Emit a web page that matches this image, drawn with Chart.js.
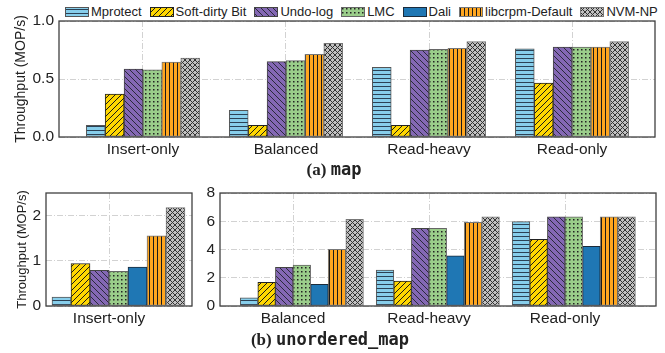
<!DOCTYPE html>
<html>
<head>
<meta charset="utf-8">
<script src="https://cdn.jsdelivr.net/npm/chart.js@4/dist/chart.umd.min.js"></script>
<style>
  body { margin: 0; background: #fff; width: 665px; height: 353px; position: relative; overflow: hidden;
         font-family: "Liberation Sans", Arial, sans-serif; }
  canvas.chart { position: absolute; }
  #legend { position: absolute; left: 65px; top: 5px; display: flex; font-size: 13px; line-height: 13px; color: #222; white-space: nowrap; }
  .item { display: flex; align-items: center; margin-right: 8px; }
  .item canvas { margin-right: 2px; }
  .cap { position: absolute; font-size: 17px; color: #222; white-space: nowrap; transform: translateX(-50%); line-height: 17px; }
  .cap .l { font-family: "Liberation Serif", serif; font-weight: bold; }
  .cap .m { font-family: "DejaVu Sans Mono", monospace; font-weight: bold; }
</style>
</head>
<body>
<div id="legend"></div>
<canvas class="chart" id="mapChart" width="665" height="160" style="left:0;top:0"></canvas>
<div class="cap" style="left:334px;top:161px"><span class="l">(a) </span><span class="m">map</span></div>
<canvas class="chart" id="umInsertChart" width="200" height="160" style="left:0;top:170px"></canvas>
<canvas class="chart" id="umChart" width="465" height="160" style="left:200px;top:170px"></canvas>
<div class="cap" style="left:330px;top:331px"><span class="l">(b) </span><span class="m">unordered_map</span></div>
<script>
// series names (legend order)
const seriesNames = ['Mprotect', 'Soft-dirty Bit', 'Undo-log', 'LMC', 'Dali', 'libcrpm-Default', 'NVM-NP'];

// (a) map -- no Dali bars
const mapCats = ['Insert-only', 'Balanced', 'Read-heavy', 'Read-only'];
const mapMprotect = [0.10, 0.23, 0.60, 0.76];
const mapSoftDirty = [0.37, 0.10, 0.10, 0.465];
const mapUndoLog = [0.585, 0.65, 0.75, 0.775];
const mapLMC = [0.578, 0.658, 0.755, 0.775];
const mapLibcrpm = [0.645, 0.713, 0.765, 0.775];
const mapNVMNP = [0.68, 0.808, 0.822, 0.822];
const mapTicks = [0, 0.5, 1.0];

// (b) unordered_map, Insert-only panel (one value per series)
const umInsertCats = ['Insert-only'];
const umInsertValues = [0.20, 0.94, 0.79, 0.765, 0.86, 1.55, 2.18];
const umInsertTicks = [0, 1, 2];

// (b) unordered_map, other workloads
const umCats = ['Balanced', 'Read-heavy', 'Read-only'];
const umMprotect = [0.57, 2.55, 5.97];
const umSoftDirty = [1.68, 1.77, 4.72];
const umUndoLog = [2.74, 5.50, 6.32];
const umLMC = [2.90, 5.50, 6.32];
const umDali = [1.54, 3.56, 4.22];
const umLibcrpm = [4.01, 5.92, 6.32];
const umNVMNP = [6.14, 6.32, 6.32];
const umTicks = [0, 2, 4, 6, 8];

// ---- hatch patterns ----
function makeTile(kind, bg, fg) {
  const c = document.createElement('canvas');
  const s = kind === 'hline' || kind === 'vline' || kind === 'dots' ? 4 : (kind === 'cross' ? 5 : 6);
  c.width = s; c.height = s;
  const g = c.getContext('2d');
  g.fillStyle = bg; g.fillRect(0, 0, s, s);
  g.fillStyle = fg; g.strokeStyle = fg; g.lineWidth = 1;
  if (kind === 'hline') g.fillRect(0, 2, s, 1);
  if (kind === 'vline') g.fillRect(1, 0, 1, s);
  if (kind === 'dots') g.fillRect(1, 1, 1.5, 1.5);
  const diag = (x0, y0, x1, y1) => { g.beginPath(); g.moveTo(x0, y0); g.lineTo(x1, y1); g.stroke(); };
  if (kind === 'fslash' || kind === 'cross') {
    diag(-1, s + 1, s + 1, -1); diag(-1, 1, 1, -1); diag(s - 1, s + 1, s + 1, s - 1);
  }
  if (kind === 'bslash' || kind === 'cross') {
    diag(-1, -1, s + 1, s + 1); diag(s - 1, -1, s + 1, 1); diag(-1, s - 1, 1, s + 1);
  }
  return c;
}
function makeFill(st) {
  if (!st.hatch) return st.bg;
  const tile = makeTile(st.hatch, st.bg, st.fg);
  return document.createElement('canvas').getContext('2d').createPattern(tile, 'repeat');
}

const styles = {
  'Mprotect':        { bg: '#87CEEB', fg: '#2b4155', hatch: 'hline',  edge: '#555' },
  'Soft-dirty Bit':  { bg: '#FFD700', fg: '#1a1a1a', hatch: 'fslash', edge: '#222' },
  'Undo-log':        { bg: '#8468b4', fg: '#2a2a3a', hatch: 'bslash', edge: '#444' },
  'LMC':             { bg: '#9acd8a', fg: '#222',    hatch: 'dots',   edge: '#666' },
  'Dali':            { bg: '#1f77b4', fg: null,      hatch: null,     edge: '#1b2b3b' },
  'libcrpm-Default': { bg: '#FFA61F', fg: '#1a1a1a', hatch: 'vline',  edge: '#777' },
  'NVM-NP':          { bg: '#C0C0C0', fg: '#333',    hatch: 'cross',  edge: '#777' }
};
const fills = {};
seriesNames.forEach(n => { fills[n] = makeFill(styles[n]); });

// ---- legend ----
const legend = document.getElementById('legend');
seriesNames.forEach(n => {
  const item = document.createElement('div');
  item.className = 'item';
  const sw = document.createElement('canvas');
  sw.width = 24; sw.height = 10;
  const g = sw.getContext('2d');
  g.fillStyle = fills[n]; g.fillRect(0, 0, 24, 10);
  g.strokeStyle = styles[n].edge; g.lineWidth = 1; g.strokeRect(0.5, 0.5, 23, 9);
  item.appendChild(sw);
  const t = document.createElement('span');
  t.textContent = n;
  item.appendChild(t);
  legend.appendChild(item);
});

// ---- charts ----
const tickFont = { family: '"Liberation Sans", Arial, sans-serif', size: 15.5 };
const gridColor = '#d2d2d2';
const gridDash = [6, 2, 1, 2];

const frame = {
  id: 'frame',
  afterDraw(chart) {
    const { ctx, chartArea: a } = chart;
    ctx.save();
    ctx.strokeStyle = '#404040';
    ctx.lineWidth = 1.3;
    ctx.strokeRect(a.left, a.top, a.right - a.left, a.bottom - a.top);
    ctx.restore();
  }
};

function bar(name, values) {
  return {
    label: name,
    data: values.map((v, i) => ({ x: i, y: v })),
    backgroundColor: fills[name],
    borderColor: styles[name].edge,
    borderWidth: 1,
    borderSkipped: false
  };
}
const spacer = { label: '', data: [] };

function buildChart(id, datasets, cats, xMin, xMax, yMin, yMax, yTicks, fmt, opts) {
  return new Chart(document.getElementById(id), {
    type: 'bar',
    data: { datasets },
    plugins: [frame],
    options: {
      responsive: false,
      animation: false,
      devicePixelRatio: 1,
      layout: { padding: { top: opts.top, right: opts.right, left: 0, bottom: 0 } },
      datasets: { bar: { barThickness: opts.barW } },
      plugins: { legend: { display: false }, tooltip: { enabled: false } },
      scales: {
        x: {
          type: 'linear', min: xMin, max: xMax, z: 1, bounds: 'data', offset: false,
          grid: { color: gridColor, lineWidth: 1, drawTicks: false, offset: false },
          border: { display: false, dash: gridDash },
          afterBuildTicks: s => { s.ticks = cats.map((c, i) => ({ value: i })); },
          ticks: { autoSkip: false, maxRotation: 0, padding: 3,
                   color: '#222', font: tickFont, callback: v => cats[v] ?? '' },
          afterFit: s => { s.height = opts.xH; }
        },
        y: {
          min: yMin, max: yMax, z: 1, bounds: 'data',
          grid: { color: gridColor, lineWidth: 1, drawTicks: false },
          border: { display: false, dash: gridDash },
          afterBuildTicks: s => { s.ticks = yTicks.map(v => ({ value: v })); },
          ticks: { padding: 5, color: '#222', font: tickFont, callback: fmt },
          title: opts.title ? { display: true, text: 'Throughput (MOP/s)', color: '#222',
                   font: { family: '"Liberation Sans", Arial, sans-serif', size: opts.titleSize },
                   padding: { top: opts.titlePad, bottom: 0 } } : { display: false },
          afterFit: s => { s.width = opts.yW; }
        }
      }
    }
  });
}

buildChart('mapChart',
  [bar('Mprotect', mapMprotect), bar('Soft-dirty Bit', mapSoftDirty), bar('Undo-log', mapUndoLog),
   bar('LMC', mapLMC), bar('libcrpm-Default', mapLibcrpm), bar('NVM-NP', mapNVMNP)],
  mapCats, -0.587, 3.58, 0, 1, mapTicks, v => v.toFixed(1),
  { top: 21, right: 10, xH: 23, yW: 59, barW: 18.9, title: true, titleSize: 14, titlePad: 12.5 });

buildChart('umInsertChart',
  [spacer].concat(seriesNames.map((n, i) => bar(n, [umInsertValues[i]]))),
  umInsertCats, -0.63, 0.83, 0, 2.5, umInsertTicks, v => String(v),
  { top: 23, right: 8, xH: 24, yW: 46, barW: 19, title: true, titleSize: 13, titlePad: 15 });

buildChart('umChart',
  [spacer, bar('Mprotect', umMprotect), bar('Soft-dirty Bit', umSoftDirty), bar('Undo-log', umUndoLog),
   bar('LMC', umLMC), bar('Dali', umDali), bar('libcrpm-Default', umLibcrpm), bar('NVM-NP', umNVMNP)],
  umCats, -0.537, 2.669, 0, 8, umTicks, v => String(v),
  { top: 23, right: 9, xH: 24, yW: 20, barW: 17.6, title: false });
</script>
</body>
</html>
